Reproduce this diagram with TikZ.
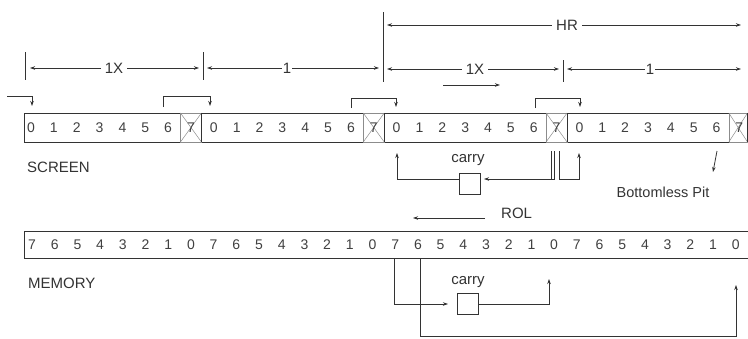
\documentclass[tikz,border=0pt]{standalone}
\usepackage{fontspec}
\setmainfont{Liberation Sans}
\usetikzlibrary{arrows.meta}
\begin{document}
\begin{tikzpicture}[x=1pt,y=-1pt,
  ln/.style={line width=0.8pt, draw=black!80},
  arr/.style={ln,-{Stealth[length=5pt,width=3.5pt]}},
  dimarr/.style={ln,{Stealth[length=5pt,width=3.5pt]}-{Stealth[length=5pt,width=3.5pt]}},
  lbl/.style={font=\fontsize{15}{16}\selectfont, text=black!80, inner sep=1pt},
  dimlbl/.style={lbl, fill=white, inner xsep=4pt},
  dig/.style={font=\fontsize{14}{15}\selectfont, text=black!75, inner sep=0pt},
  xcell/.style={draw=black!45, line width=0.5pt},
  bar/.style={draw=black!80, line width=0.8pt, anchor=north west, inner sep=0pt},
  carrybox/.style={draw=black!80, line width=0.8pt, minimum width=21pt, minimum height=21pt, inner sep=0pt}]
\useasboundingbox (0,0) rectangle (748,338);

% ---------- screen bar ----------
\node[bar, minimum width=723.5pt, minimum height=29pt] (scr) at (24,113) {};
\foreach \b in {0,1,2,3}{
  \pgfmathsetmacro{\cx}{31+22.85*(8*\b+7)}
  \pgfmathsetmacro{\xl}{\cx-10.5}
  \pgfmathsetmacro{\xr}{min(\cx+10.5,747.5)}
  \draw[xcell] (\xl,113) rectangle (\xr,142);
  \draw[xcell] (\xl,113) -- (\xr,142) (\xl,142) -- (\xr,113);
  \draw[ln] (\xr,113) -- (\xr,142);
}
\foreach \k in {0,...,31}{
  \pgfmathtruncatemacro{\d}{mod(\k,8)}
  \node[dig] (s\k) at ({31+22.85*\k},127.5) {\d};
}
\node[lbl, anchor=west] (screenlbl) at (26,167) {SCREEN};

% ---------- dimension lines ----------
\coordinate (t0a) at (25,52);  \coordinate (t0b) at (25,80);
\coordinate (t1a) at (203,52); \coordinate (t1b) at (203,80);
\coordinate (t2a) at (383,12); \coordinate (t2b) at (383,82);
\coordinate (t3a) at (563,60); \coordinate (t3b) at (563,82);
\draw[ln] (t0a) -- (t0b) (t1a) -- (t1b) (t2a) -- (t2b) (t3a) -- (t3b);

\coordinate (d0l) at (30,68);  \coordinate (d0r) at (199,68);
\coordinate (d1l) at (207,68); \coordinate (d1r) at (379,68);
\coordinate (d2l) at (387,69); \coordinate (d2r) at (559,69);
\coordinate (d3l) at (567,69); \coordinate (d3r) at (741,69);
\coordinate (hrl) at (387,25); \coordinate (hrr) at (741,25);
\draw[dimarr] (d0l) -- (d0r);
\draw[dimarr] (d1l) -- (d1r);
\draw[dimarr] (d2l) -- (d2r);
\draw[dimarr] (d3l) -- (d3r);
\draw[dimarr] (hrl) -- (hrr);
\node[dimlbl] (l1x) at (114,68) {1X};
\node[dimlbl, inner xsep=1pt] (l1) at (287,68) {1};
\node[dimlbl] (l1xb) at (475,69) {1X};
\node[dimlbl, inner xsep=1pt] (l1b) at (650,69) {1};
\node[dimlbl] (lhr) at (567,25) {HR};

% arrow under right 1X
\coordinate (ra) at (443,85); \coordinate (rb) at (500,85);
\draw[arr] (ra) -- (rb);

% ---------- carry-over brackets above screen ----------
\coordinate (b0a) at (7,96);   \coordinate (b0b) at (32,96);  \coordinate (b0c) at (32,106);
\draw[arr] (b0a) -- (b0b) -- (b0c);
\coordinate (b1a) at (163,107); \coordinate (b1b) at (163,96); \coordinate (b1c) at (210,96); \coordinate (b1d) at (210,106);
\draw[arr] (b1a) -- (b1b) -- (b1c) -- (b1d);
\coordinate (b2a) at (351,108); \coordinate (b2b) at (351,98); \coordinate (b2c) at (396,98); \coordinate (b2d) at (396,107);
\draw[arr] (b2a) -- (b2b) -- (b2c) -- (b2d);
\coordinate (b3a) at (535,108); \coordinate (b3b) at (535,98); \coordinate (b3c) at (580,98); \coordinate (b3d) at (580,107);
\draw[arr] (b3a) -- (b3b) -- (b3c) -- (b3d);

% ---------- screen carry loop ----------
\node[carrybox] (cb1) at (469.5,183.5) {};
\node[lbl] (carry1) at (468,160) {carry};
\coordinate (c1l) at (459,179); \coordinate (c1a) at (397,179); \coordinate (c1b) at (397,153);
\draw[arr] (c1l) -- (c1a) -- (c1b);
\coordinate (c2a) at (554,151); \coordinate (c2b) at (554,179); \coordinate (c2c) at (484,179);
\draw[arr] (c2a) -- (c2b) -- (c2c);
\coordinate (c2d) at (551,151); \coordinate (c2e) at (551,179);
\draw[ln] (c2d) -- (c2e);
\coordinate (c3a) at (559,151); \coordinate (c3b) at (559,179); \coordinate (c3c) at (579,179); \coordinate (c3d) at (579,153);
\draw[arr] (c3a) -- (c3b) -- (c3c) -- (c3d);

% bottomless pit
\coordinate (pa) at (717,151); \coordinate (pb) at (713,172);
\draw[arr] (pa) -- (pb);
\node[lbl, font=\fontsize{14.5}{16}\selectfont] (pit) at (663,192) {Bottomless Pit};

% ROL
\node[lbl, anchor=west] (rol) at (500,213) {ROL};
\coordinate (rola) at (485,218); \coordinate (rolb) at (413,218);
\draw[arr] (rola) -- (rolb);

% ---------- memory bar ----------
\node[bar, minimum width=723.5pt, minimum height=27pt] (mem) at (24,231) {};
\foreach \k in {0,...,31}{
  \pgfmathtruncatemacro{\d}{7-mod(\k,8)}
  \node[dig] (m\k) at ({32+22.7*\k},245) {\d};
}
\node[lbl, anchor=west] (memlbl) at (27,283) {MEMORY};

% ---------- memory carry loop ----------
\node[carrybox] (cb2) at (467.5,303.5) {};
\node[lbl] (carry2) at (468,282) {carry};
\coordinate (m1a) at (394,259); \coordinate (m1b) at (394,304); \coordinate (m1c) at (448,304);
\draw[arr] (m1a) -- (m1b) -- (m1c);
\coordinate (m2a) at (478,304); \coordinate (m2b) at (549,304); \coordinate (m2c) at (549,279);
\draw[arr] (m2a) -- (m2b) -- (m2c);
\coordinate (m3a) at (420,259); \coordinate (m3b) at (420,336); \coordinate (m3c) at (736,336); \coordinate (m3d) at (736,285);
\draw[arr] (m3a) -- (m3b) -- (m3c) -- (m3d);
\end{tikzpicture}
\end{document}
